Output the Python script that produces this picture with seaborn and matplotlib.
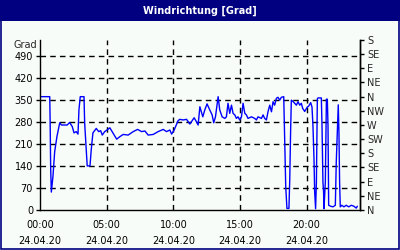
import matplotlib
matplotlib.use("Agg")
import matplotlib.pyplot as plt
import matplotlib.patches as mpatches
import seaborn as sns
import pandas as pd
from matplotlib.ticker import MultipleLocator, FixedLocator

# ---- data (hours since 00:00 on 24.04.20, wind direction in degrees) ----
hours = [0.05, 0.73, 0.76, 0.80, 0.85, 0.97, 1.10, 1.27, 1.48, 1.60, 2.04, 2.22, 2.42, 2.55,
         2.72, 2.85, 2.92, 3.02, 3.30, 3.35, 3.47, 3.54, 3.75, 3.84, 3.97, 4.22, 4.40, 4.55,
         4.67, 4.85, 5.02, 5.24, 5.47, 5.75, 5.99, 6.24, 6.61, 6.99, 7.32, 7.62, 7.87, 8.11,
         8.49, 8.86, 9.24, 9.49, 9.74, 9.87, 10.06, 10.36, 10.49, 10.73, 10.99, 11.24, 11.56,
         11.74, 11.86, 11.99, 12.21, 12.36, 12.53, 12.73, 12.91, 13.03, 13.16, 13.36, 13.48,
         13.66, 13.86, 13.98, 14.10, 14.23, 14.36, 14.48, 14.61, 14.73, 14.85, 14.98, 15.11,
         15.23, 15.36, 15.48, 15.60, 15.86, 16.10, 16.23, 16.35, 16.61, 16.73, 16.85, 16.98,
         17.10, 17.23, 17.36, 17.48, 17.60, 17.73, 17.85, 17.98, 18.10, 18.28, 18.34, 18.43,
         18.52, 18.67, 18.73, 18.80, 18.85, 18.97, 19.10, 19.23, 19.35, 19.48, 19.60, 19.70,
         19.85, 20.05, 20.15, 20.30, 20.40, 20.47, 20.55, 20.60, 20.67, 20.73, 20.80, 20.85,
         21.10, 21.15, 21.22, 21.27, 21.30, 21.40, 21.48, 21.55, 21.60, 21.65, 21.80, 21.97,
         22.15, 22.22, 22.30, 22.37, 22.42, 22.47, 22.52, 22.64, 22.79, 22.97, 23.15, 23.35,
         23.54, 23.72, 23.80]
degrees = [360, 360, 284, 133, 57, 106, 185, 233, 277, 270, 270, 278, 265, 245,
           249, 241, 318, 360, 360, 276, 190, 140, 140, 190, 245, 259, 249, 252,
           238, 249, 254, 261, 245, 225, 233, 240, 238, 249, 256, 249, 251, 238,
           240, 249, 256, 249, 254, 241, 254, 284, 288, 286, 288, 273, 293,
           280, 270, 328, 296, 318, 337, 318, 302, 277, 296, 360, 318,
           296, 291, 296, 339, 307, 333, 307, 302, 291, 296, 286, 296,
           339, 307, 302, 291, 296, 291, 286, 296, 291, 302, 291, 286,
           312, 333, 312, 344, 333, 355, 358, 349, 358, 360, 243, 74,
           5, 5, 95, 259, 349, 345, 339, 333, 344, 333, 339, 323,
           313, 327, 330, 341, 327, 269, 163, 57, 4, 89, 353, 356,
           356, 269, 89, 57, 4, 89, 352, 352, 269, 15, 12, 10,
           15, 152, 248, 334, 248, 89, 10, 15, 10, 15, 10, 15,
           12, 6, 12]

left_ticks = [0, 70, 140, 210, 280, 350, 420, 490]
compass_labels = ["N", "NE", "E", "SE", "S", "SW", "W", "NW", "N", "NE", "E", "SE", "S"]
x_major = [0, 5, 10, 15, 20]
x_labels = ["00:00\n24.04.20", "05:00\n24.04.20", "10:00\n24.04.20",
            "15:00\n24.04.20", "20:00\n24.04.20"]
title = "Windrichtung [Grad]"
y_unit = "Grad"

df = pd.DataFrame({"h": hours, "deg": degrees})

sns.set_style("white")
plt.rcParams["font.family"] = ["DejaVu Sans"]

bg = "#F8FCF8"
navy = "#000080"
fs = 7

fig = plt.figure(figsize=(4, 2.5), dpi=100, facecolor=bg)
ax = fig.add_axes([0.1, 0.16, 0.8, 0.68])
ax.set_facecolor(bg)

sns.lineplot(data=df, x="h", y="deg", ax=ax, color="#0000FF", linewidth=1.0,
             estimator=None, sort=False)

ax.set_xlim(0, 24)
ax.set_ylim(0, 540)
ax.set_xlabel("")
ax.set_ylabel("")

ax.xaxis.set_major_locator(FixedLocator(x_major))
ax.set_xticklabels(x_labels, fontsize=fs, linespacing=1.75)
ax.xaxis.set_minor_locator(MultipleLocator(1))
ax.yaxis.set_major_locator(FixedLocator(left_ticks))
ax.set_yticklabels([str(v) for v in left_ticks], fontsize=fs)

ax.tick_params(axis="x", which="major", direction="out", length=4, width=1,
               color="black", pad=3, labelcolor="black")
ax.tick_params(axis="x", which="minor", direction="out", length=3, width=1, color="black")
ax.tick_params(axis="y", which="major", direction="out", length=3, width=1,
               color="black", pad=2, labelcolor="black")

for s in ["left", "bottom", "right"]:
    ax.spines[s].set_visible(True)
    ax.spines[s].set_color("black")
    ax.spines[s].set_linewidth(1)
ax.spines["top"].set_visible(False)

# dashed grid
for v in left_ticks[1:]:
    ax.axhline(v, color="black", linestyle=(0, (4, 3)), linewidth=1, zorder=0)
for v in x_major[1:]:
    ax.axvline(v, color="black", linestyle=(0, (4, 3)), linewidth=1, zorder=0)

# right compass axis
ax2 = ax.twinx()
ax2.set_ylim(0, 540)
ax2.yaxis.set_major_locator(FixedLocator([45 * i for i in range(13)]))
ax2.set_yticklabels(compass_labels, fontsize=fs)
ax2.tick_params(axis="y", direction="out", length=3, width=1, color="black", pad=2)
for s in ["left", "bottom", "top"]:
    ax2.spines[s].set_visible(False)
ax2.spines["right"].set_color("black")
ax2.spines["right"].set_linewidth(1)

# unit label
fig.text(37 / 400, 1 - 45 / 250, y_unit, ha="right", va="center", fontsize=fs)

# title bar
fig.patches.append(mpatches.Rectangle((0, 1 - 20.5 / 250), 1, 20.5 / 250,
                                      transform=fig.transFigure, facecolor=navy,
                                      edgecolor="none", zorder=0))
fig.text(0.5, 1 - 10.5 / 250, title, ha="center", va="center", color="white",
         fontsize=7, fontweight="bold")
# frame border
fig.patches.append(mpatches.Rectangle((0.002, 0.004), 0.995, 0.99,
                                      transform=fig.transFigure, facecolor="none",
                                      edgecolor=navy, linewidth=1.2, zorder=1))

fig.savefig("out.png", dpi=100, facecolor=bg)
